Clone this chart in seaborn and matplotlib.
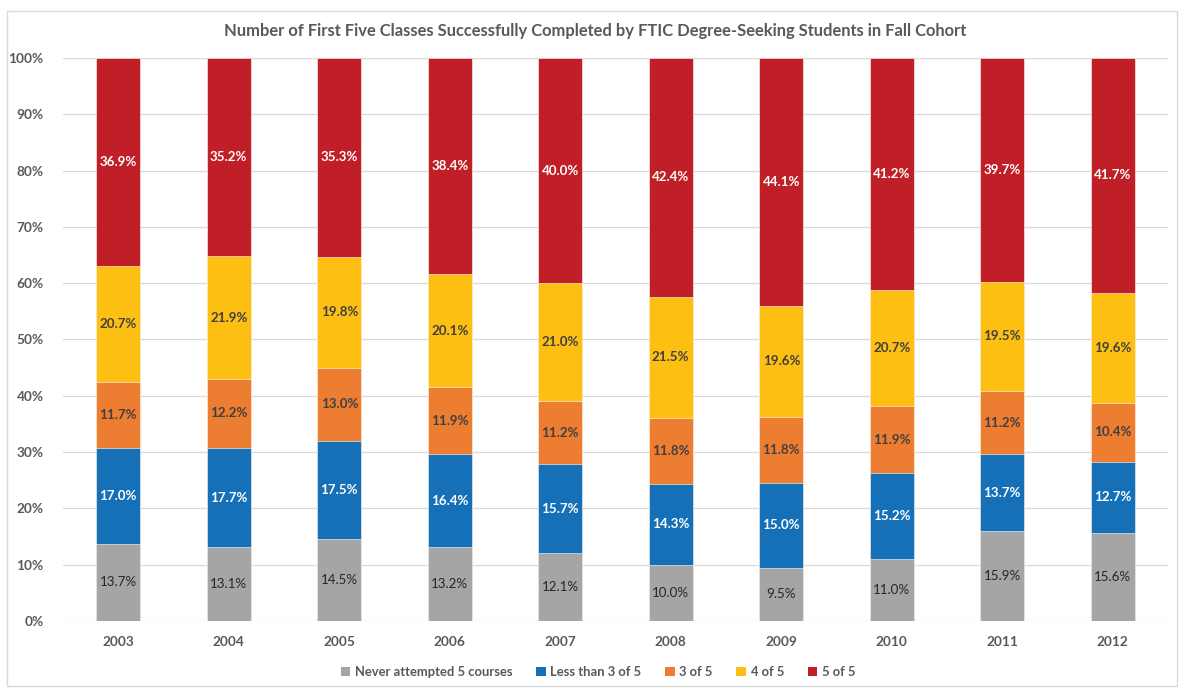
import matplotlib
matplotlib.use("Agg")
import matplotlib.pyplot as plt
from matplotlib.patches import Patch, Rectangle
from matplotlib.ticker import PercentFormatter, MultipleLocator
import numpy as np
import pandas as pd
import seaborn as sns

years = ["2003", "2004", "2005", "2006", "2007", "2008", "2009", "2010", "2011", "2012"]
never_attempted = [13.7, 13.1, 14.5, 13.2, 12.1, 10.0, 9.5, 11.0, 15.9, 15.6]
less_than_3 = [17.0, 17.7, 17.5, 16.4, 15.7, 14.3, 15.0, 15.2, 13.7, 12.7]
three_of_5 = [11.7, 12.2, 13.0, 11.9, 11.2, 11.8, 11.8, 11.9, 11.2, 10.4]
four_of_5 = [20.7, 21.9, 19.8, 20.1, 21.0, 21.5, 19.6, 20.7, 19.5, 19.6]
five_of_5 = [36.9, 35.2, 35.3, 38.4, 40.0, 42.4, 44.1, 41.2, 39.7, 41.7]

series_names = ["Never attempted 5 courses", "Less than 3 of 5", "3 of 5", "4 of 5", "5 of 5"]
series_values = [never_attempted, less_than_3, three_of_5, four_of_5, five_of_5]
colors = ["#A5A5A5", "#1570B8", "#ED7D31", "#FCBF12", "#C01F27"]
label_colors = ["#262626", "white", "#404040", "#404040", "white"]
label_weights = ["normal", "bold", "bold", "bold", "bold"]

sns.set_theme(style="white")
plt.rcParams["font.family"] = ["Lato", "DejaVu Sans"]
TEXT = "#595959"

vals = np.array(series_values, dtype=float)
shares = vals / vals.sum(axis=0)  # 100% stacked
cum = np.cumsum(shares, axis=0)

fig = plt.figure(figsize=(11.83, 6.88), dpi=100)
ax = fig.add_axes([63 / 1183, 67 / 688, 1105 / 1183, 563 / 688])

# chart frame
fig.patches.append(Rectangle((7 / 1183, 2 / 688), 1170 / 1183, 675 / 688,
                             transform=fig.transFigure, fill=False,
                             edgecolor="#D9D9D9", linewidth=1.0, zorder=0))

# draw stacked bars from the top layer down
for i in range(len(series_names) - 1, -1, -1):
    df = pd.DataFrame({"year": years, "top": cum[i]})
    sns.barplot(data=df, x="year", y="top", color=colors[i], width=0.4,
                saturation=1, edgecolor="white", linewidth=0.4, ax=ax, zorder=3)

# segment labels
for i in range(len(series_names)):
    for j, y in enumerate(years):
        mid = cum[i][j] - shares[i][j] / 2
        ax.text(j, mid, f"{series_values[i][j]:.1f}%", ha="center", va="center",
                fontsize=9.6, color=label_colors[i], fontweight=label_weights[i], zorder=5)

ax.set_xlim(-0.5, len(years) - 0.5)
ax.set_ylim(0, 1)
ax.yaxis.set_major_locator(MultipleLocator(0.1))
ax.yaxis.set_major_formatter(PercentFormatter(1.0, decimals=0))
ax.grid(axis="y", color="#D9D9D9", linewidth=0.9, zorder=0)
ax.set_axisbelow(True)
for s in ax.spines.values():
    s.set_visible(False)
ax.set_xlabel("")
ax.set_ylabel("")
ax.tick_params(axis="both", length=0, labelsize=9.8, labelcolor=TEXT)
ax.tick_params(axis="y", pad=14)
ax.tick_params(axis="x", pad=11)
for t in ax.get_xticklabels() + ax.get_yticklabels():
    t.set_fontweight("bold")

fig.text(595 / 1183, 1 - 31 / 688,
         "Number of First Five Classes Successfully Completed by FTIC Degree-Seeking Students in Fall Cohort",
         ha="center", va="center", fontsize=11.9, fontweight="bold", color=TEXT)

handles = [Patch(facecolor=c, edgecolor="none") for c in colors]
leg = fig.legend(handles, series_names, loc="center", bbox_to_anchor=(598 / 1183, 16 / 688),
                 ncol=5, frameon=False, handlelength=0.75, handleheight=0.75,
                 handletextpad=0.35, columnspacing=1.8, prop={"size": 9.4, "weight": "bold"})
for t in leg.get_texts():
    t.set_color(TEXT)

fig.savefig("out.png", dpi=100)
